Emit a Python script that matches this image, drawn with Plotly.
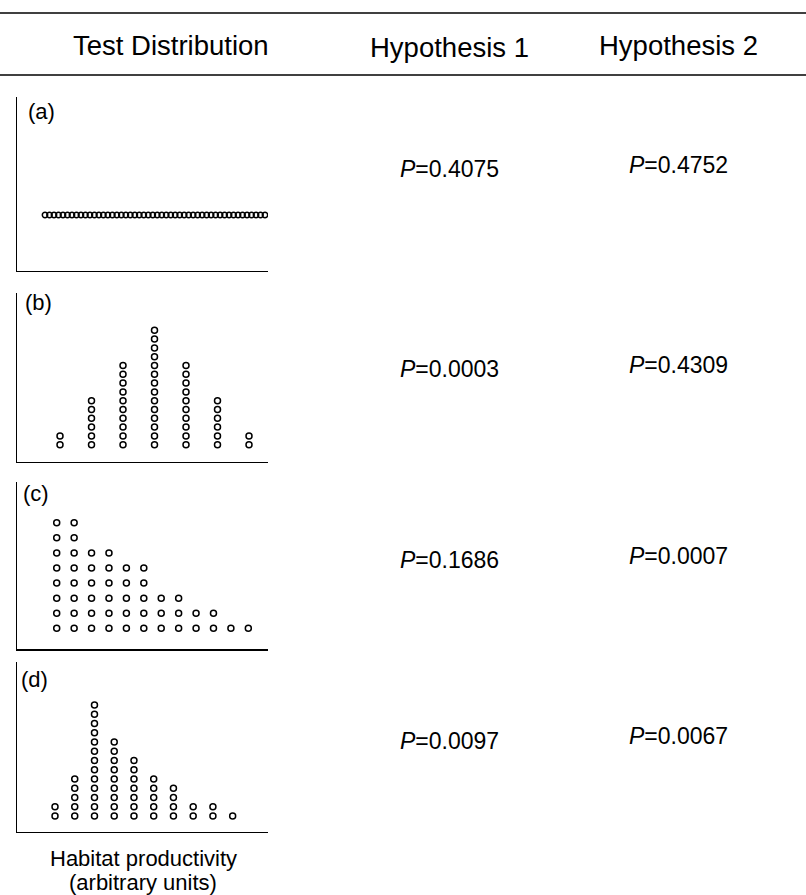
import plotly.graph_objects as go

# ---- data ----
header_labels = ["Test Distribution", "Hypothesis 1", "Hypothesis 2"]
panel_labels = ["(a)", "(b)", "(c)", "(d)"]
counts_a = [1] * 50
counts_b = [2, 6, 10, 14, 10, 6, 2]
counts_c = [8, 8, 6, 6, 5, 5, 3, 3, 2, 2, 1, 1]
counts_d = [2, 5, 13, 9, 7, 5, 4, 2, 2, 1]
p_hyp1 = ["0.4075", "0.0003", "0.1686", "0.0097"]
p_hyp2 = ["0.4752", "0.4309", "0.0007", "0.0067"]
xlabel_lines = ["Habitat productivity", "(arbitrary units)"]

W, H = 806, 895
FONT = "Liberation Sans, Arial, sans-serif"

def py(p):
    return 1 - p / H

def px(p):
    return p / W

panels = [counts_a, counts_b, counts_c, counts_d]
# pixel geometry of each panel (top, bottom)
panel_px = [(97, 270.7), (293, 461.7), (481.7, 649), (661.7, 831.7)]
x_ranges = [[-5.24, 50.67], [-0.365, 7.603], [-1.28, 13.13], [-0.925, 11.79]]
y_ranges = [[0, 3.118], [-0.93, 18.24], [-0.37, 10.72], [-0.70, 17.68]]
label_pos = [(26, 112), (23, 302), (21, 493), (19, 679)]
p1_y = [169, 369, 560, 741]
p2_y = [165, 365, 556, 736]

fig = go.Figure()
layout_axes = {}
for i, counts in enumerate(panels):
    xs, ys = [], []
    for b, c in enumerate(counts, start=1):
        for k in range(1, c + 1):
            xs.append(b)
            ys.append(k)
    suffix = "" if i == 0 else str(i + 1)
    fig.add_trace(go.Scatter(
        x=xs, y=ys, mode="markers",
        marker=dict(symbol="circle-open", size=6 if i else 5.4,
                    color="black", line=dict(width=1.5, color="black")),
        xaxis="x" + suffix, yaxis="y" + suffix, showlegend=False,
        hoverinfo="skip"))
    top, bot = panel_px[i]
    layout_axes["xaxis" + suffix] = dict(
        domain=[px(17), px(268)], range=x_ranges[i], anchor="y" + suffix,
        showline=True, linecolor="black", linewidth=1.5, showgrid=False,
        zeroline=False, showticklabels=False, ticks="", fixedrange=True)
    layout_axes["yaxis" + suffix] = dict(
        domain=[py(bot), py(top)], range=y_ranges[i], anchor="x" + suffix,
        showline=True, linecolor="black", linewidth=1.5, showgrid=False,
        zeroline=False, showticklabels=False, ticks="", fixedrange=True)

annotations = []
def add_text(text, x, y, size, xanchor="center"):
    annotations.append(dict(text=text, x=px(x), y=py(y), xref="paper", yref="paper",
                            xanchor=xanchor, yanchor="middle", showarrow=False,
                            font=dict(family=FONT, size=size, color="black")))

add_text(header_labels[0], 171, 45, 27.5)
add_text(header_labels[1], 449, 48, 27.5)
add_text(header_labels[2], 678, 45, 27.5)
for i in range(4):
    add_text(panel_labels[i], label_pos[i][0], label_pos[i][1], 22, xanchor="left")
    add_text("<i>P</i>=" + p_hyp1[i], 449, p1_y[i], 23)
    add_text("<i>P</i>=" + p_hyp2[i], 678, p2_y[i], 23)
add_text(xlabel_lines[0], 143, 858, 22)
add_text(xlabel_lines[1], 143, 882, 22)

shapes = [
    dict(type="line", xref="paper", yref="paper", x0=0, x1=1, y0=py(13), y1=py(13),
         line=dict(color="black", width=1.6)),
    dict(type="line", xref="paper", yref="paper", x0=0, x1=1, y0=py(75), y1=py(75),
         line=dict(color="black", width=1.6)),
]

fig.update_layout(width=W, height=H, margin=dict(l=0, r=0, t=0, b=0),
                  paper_bgcolor="white", plot_bgcolor="white",
                  annotations=annotations, shapes=shapes, **layout_axes)
fig.write_html("out.html", config={"displayModeBar": False, "staticPlot": True},
               post_script="document.body.style.margin='0';document.body.style.padding='0';")
